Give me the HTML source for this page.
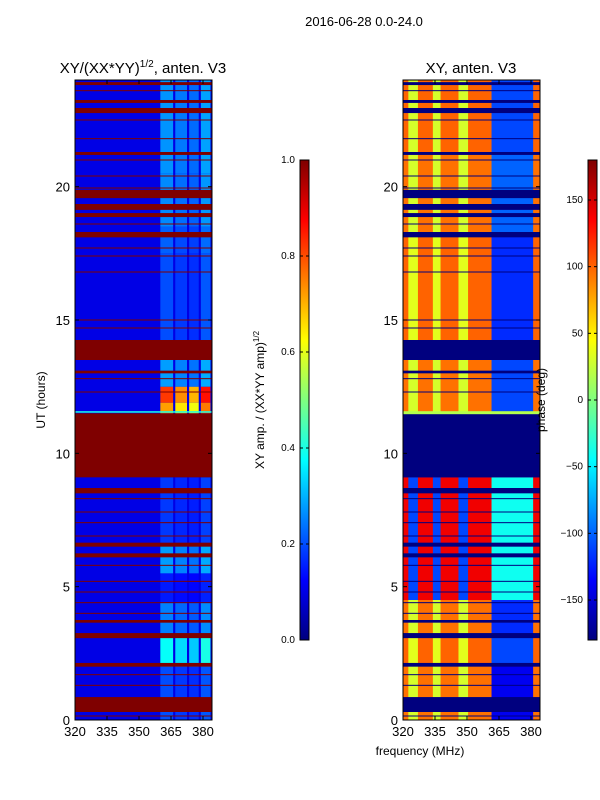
<!DOCTYPE html>
<html><head><meta charset="utf-8"><style>
body{margin:0;background:#fff;}
svg{display:block;font-family:"Liberation Sans",sans-serif;}
</style></head><body>
<svg id="fig" width="600" height="800" viewBox="0 0 600 800">
<defs>
<linearGradient id="jetV" x1="0" y1="1" x2="0" y2="0">
<stop offset="0" stop-color="#00007f"/><stop offset="0.125" stop-color="#0000ff"/><stop offset="0.375" stop-color="#00ffff"/><stop offset="0.625" stop-color="#ffff00"/><stop offset="0.875" stop-color="#ff0000"/><stop offset="1" stop-color="#7f0000"/>
</linearGradient>
<clipPath id="c1"><rect x="75" y="80" width="137" height="640"/></clipPath>
<clipPath id="c2"><rect x="403" y="80" width="137" height="640"/></clipPath>
</defs>
<text x="364" y="26" font-size="13" text-anchor="middle">2016-06-28 0.0-24.0</text>
<text x="143" y="73" font-size="15" text-anchor="middle">XY/(XX*YY)<tspan font-size="10" dy="-6">1/2</tspan><tspan dy="6">, anten. V3</tspan></text>
<text x="471" y="73" font-size="15" text-anchor="middle">XY, anten. V3</text>
<g id="p1" clip-path="url(#c1)"></g>
<g id="p2" clip-path="url(#c2)"></g>
<rect x="75" y="80" width="137" height="640" fill="none" stroke="#000"/>
<rect x="403" y="80" width="137" height="640" fill="none" stroke="#000"/>
<g id="axes" font-size="13"></g>
<text transform="translate(45,400) rotate(-90)" font-size="12" text-anchor="middle">UT (hours)</text>
<text x="420" y="755" font-size="12" text-anchor="middle">frequency (MHz)</text>
<rect x="300" y="160" width="9" height="480" fill="url(#jetV)" stroke="#000" stroke-width="1"/>
<rect x="588" y="160" width="9" height="480" fill="url(#jetV)" stroke="#000" stroke-width="1"/>
<text transform="translate(264,400) rotate(-90)" font-size="12" text-anchor="middle">XY amp. / (XX*YY amp)<tspan font-size="8" dy="-5">1/2</tspan></text>
<text transform="translate(545,400) rotate(-90)" font-size="12" text-anchor="middle">phase (deg)</text>
<g id="cb" font-size="10"></g>
</svg>
<script>
const flagged=[[23.81,23.92],[23.14,23.25],[22.76,22.95],[21.19,21.3],[19.57,19.88],[19.13,19.35],[18.86,19.01],[18.1,18.3],[13.5,14.25],[13.0,13.1],[9.1,11.5],[8.5,8.7],[6.5,6.65],[6.1,6.25],[3.65,3.75],[3.07,3.26],[2.0,2.14],[0.3,0.86]];
const thinLines=[23.6,22.5,21.8,21.0,20.4,19.95,18.6,17.7,17.4,16.8,15.0,14.7,12.8,12.3,8.3,7.8,7.4,6.9,5.8,5.2,4.8,4.4,4.0,1.7,1.3,0.15];
const hfStart=[0,2,3.1,4.4,5.5,6.6,11.5,11.9,12.5,14.25,17.5,18.5,20.5];
const hfEnd=[2,3.1,4.4,5.5,6.6,9.1,11.9,12.5,13.5,17.5,18.5,20.5,24];
const hfLevel=[0.2,0.38,0.25,0.15,0.28,0.18,0.72,0.82,0.28,0.2,0.22,0.26,0.27];
const hfCols=[[360,366],[367,372.5],[373.5,378],[379,383.5]];
const colFactor=[1,0.9,0.85,1.05];
const phStart=[0,2.1,3.1,4.5,11.5,14.25,18.3,21.3];
const phEnd=[2.1,3.1,4.5,9.1,13.5,18.3,21.3,24];
const phBase=[95,100,95,140,95,100,95,100];
const phStripe=[30,35,30,-110,30,35,30,30];
const phHF=[-140,-110,-120,-40,-110,-120,-100,-110];
const stripes=[[322.5,327],[334,337.6],[346,350.5]];
const yTicks=[0,5,10,15,20];
const xTicks=[320,335,350,365,380];
const ampTicks=[0,0.2,0.4,0.6,0.8,1.0];
const phTicks=[-150,-100,-50,0,50,100,150];

const NS='http://www.w3.org/2000/svg';
function yS(h){return 720-h*640/24;}
function xS1(f){return 75+(f-320)*32/15;}
function xS2(f){return 403+(f-320)*32/15;}
function jet(v){v=Math.max(0,Math.min(1,v));
 const st=[[0,[0,0,127]],[0.125,[0,0,255]],[0.375,[0,255,255]],[0.625,[255,255,0]],[0.875,[255,0,0]],[1,[127,0,0]]];
 for(let i=1;i<st.length;i++){if(v<=st[i][0]){const t=(v-st[i-1][0])/(st[i][0]-st[i-1][0]);const a=st[i-1][1],b=st[i][1];return 'rgb('+a.map((c,k)=>Math.round(c+(b[k]-c)*t)).join(',')+')';}}
 return 'rgb(127,0,0)';}
function ph(p){return jet((p+180)/360);}
function rect(g,x,y,w,h,fill){const r=document.createElementNS(NS,'rect');r.setAttribute('x',x);r.setAttribute('y',y);r.setAttribute('width',w);r.setAttribute('height',h);r.setAttribute('fill',fill);g.appendChild(r);return r;}
const p1=document.getElementById('p1'),p2=document.getElementById('p2');
let r=rect(p1,75,80,137,640,jet(0.1));


for(let i=0;i<hfLevel.length;i++){
 hfCols.forEach((c,k)=>{const e=rect(p1,xS1(c[0]),yS(hfEnd[i]),xS1(c[1])-xS1(c[0]),yS(hfStart[i])-yS(hfEnd[i]),jet(hfLevel[i]*colFactor[k]));
 
 });
}
let r2=rect(p2,403,80,137,640,jet(0.05));


for(let i=0;i<phBase.length;i++){
 const y0=yS(phEnd[i]),hh=yS(phStart[i])-y0;
 let e=rect(p2,403,y0,137,hh,ph(phBase[i]));
 
 
 stripes.forEach(s=>{const q=rect(p2,xS2(s[0]),y0,xS2(s[1])-xS2(s[0]),hh,ph(phStripe[i]));
 
 });
 const q2=rect(p2,xS2(361.5),y0,xS2(381)-xS2(361.5),hh,ph(phHF[i]));
 
 
}
flagged.forEach(f=>{
 const y0=yS(f[1]),hh=yS(f[0])-y0;
 const a=rect(p1,75,y0,137,hh,'#7f0000');
 
 
 const b=rect(p2,403,y0,137,hh,'#00007f');
 
 
});
rect(p1,75,yS(11.58),137,1.5,jet(0.4));
rect(p2,403,yS(11.58),137,3,jet(0.55));
thinLines.forEach(h=>{
 const a=rect(p1,75,yS(h)-0.5,137,1,'#7f0000');
 
 
 const b=rect(p2,403,yS(h)-0.5,137,1,'#00007f');
 
 
});
const ax=document.getElementById('axes');
function line(g,x1,y1,x2,y2){const l=document.createElementNS(NS,'line');l.setAttribute('x1',x1);l.setAttribute('y1',y1);l.setAttribute('x2',x2);l.setAttribute('y2',y2);l.setAttribute('stroke','#000');g.appendChild(l);return l;}
function text(g,x,y,s,anchor){const t=document.createElementNS(NS,'text');t.setAttribute('x',x);t.setAttribute('y',y);t.setAttribute('text-anchor',anchor);t.textContent=s;g.appendChild(t);return t;}
[[75,212],[403,540]].forEach((p,pi)=>{
 yTicks.forEach(v=>{const y=yS(v);line(ax,p[0],y,p[0]+4,y);line(ax,p[1],y,p[1]-4,y);
  const t=text(ax,p[0]-5,y+5,String(v),'end');
  
  });
 xTicks.forEach(v=>{const x=p[0]+(v-320)*32/15;line(ax,x,720,x,716);line(ax,x,80,x,84);
  const t=text(ax,x,736,String(v),'middle');
  
  });
});
const cb=document.getElementById('cb');
ampTicks.forEach(v=>{const y=640-v*480;line(cb,300,y,303,y);line(cb,309,y,306,y);
 const t=text(cb,295,y+3,v.toFixed(1),'end');
 
 });
phTicks.forEach(v=>{const y=400-v*480/360;line(cb,588,y,591,y);line(cb,597,y,594,y);
 const t=text(cb,583,y+3,v<0?'\u2212'+(-v):String(v),'end');
 
 });
</script>
</body></html>
